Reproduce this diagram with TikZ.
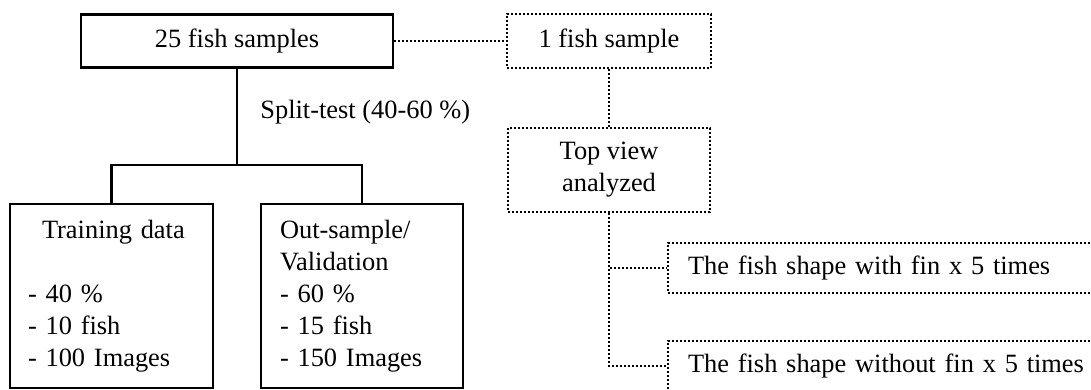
\documentclass[tikz,border=0pt]{standalone}
\usepackage{fontspec}
\setmainfont{Liberation Serif}
\usetikzlibrary{positioning}

\begin{document}
\begin{tikzpicture}[x=0.5pt,y=-0.5pt,
  font=\fontsize{13.2}{16}\selectfont]
  \tikzstyle{solidbox}=[draw,line width=1.1pt,inner sep=0pt]
  \tikzstyle{dotbox}=[draw,line width=1pt,dash pattern=on 1pt off 1pt,inner sep=0pt]
  \tikzstyle{dotline}=[line width=1pt,dash pattern=on 1pt off 1pt]

  \path[use as bounding box,clip] (0,0) rectangle (1091,390);

  \node[solidbox,minimum width=156pt,minimum height=26.5pt] (all) at (237,41) {25 fish samples};
  \node[anchor=west,inner sep=0pt] (ratio) at (260,112) {Split-test (40-60 \%)};
  \node[solidbox,text width=83.5pt,inner xsep=9pt,minimum height=92pt,align=left]
       (train) at (111.5,296) {\hspace*{7pt}Training data\\[16pt]- 40 \%\\- 10 fish\\- 100 Images};
  \node[solidbox,text width=82pt,inner xsep=9.5pt,minimum height=92pt,align=left]
       (valid) at (362,296) {Out-sample/\\Validation\\- 60 \%\\- 15 fish\\- 150 Images};

  \node[dotbox,minimum width=102pt,minimum height=27pt] (one) at (609,41) {1 fish sample};
  \node[dotbox,minimum width=101pt,minimum height=42pt,align=center] (view) at (609,170) {Top view\\analyzed};
  \node[dotbox,anchor=west,text width=230pt,inner xsep=10pt,minimum height=25pt,align=left]
       (fin) at (667,268) {The fish shape with fin x 5 times};
  \node[dotbox,anchor=west,text width=230pt,inner xsep=10pt,minimum height=25pt,align=left]
       (nofin) at (667,366) {The fish shape without fin x 5 times};

  \coordinate (split) at (237,165);
  \draw[line width=1.1pt] (all) -- (split);
  \draw[line width=1.1pt] (train.north) |- (split) -| (valid.north);

  \draw[dotline] (all) -- (one);
  \draw[dotline] (one) -- (view);
  \draw[dotline] (view.south) |- (fin.west);
  \draw[dotline] (view.south) |- (nofin.west);
\end{tikzpicture}
\end{document}
